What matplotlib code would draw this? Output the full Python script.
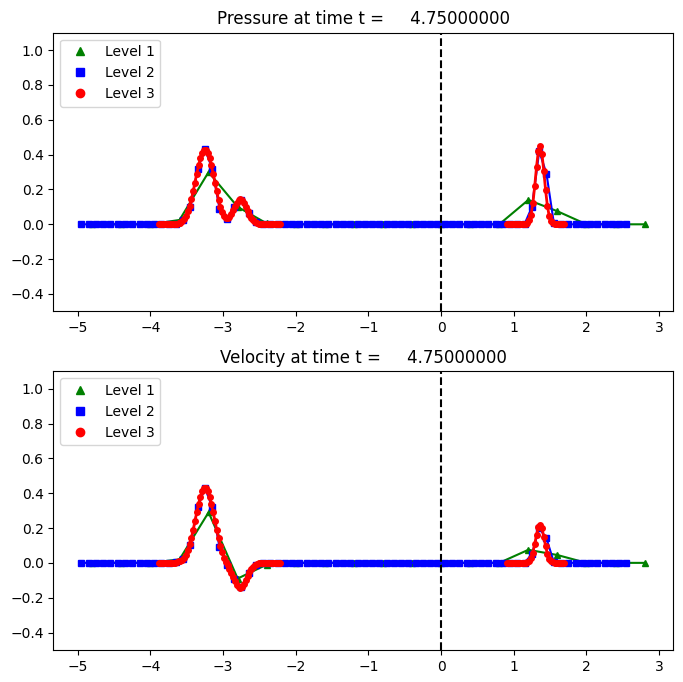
import numpy as np
import matplotlib
matplotlib.use('Agg')
import matplotlib.pyplot as plt
from matplotlib.lines import Line2D

t_frame = 4.75

# level 1 grid: dx = 0.4, cell centres from -4.8 to 2.8
x1 = np.arange(20) * 0.4 - 4.8
p1 = [0, 0, 0, 0.025, 0.30, 0.10, 0.005, 0, 0, 0,
      0, 0, 0, 0, 0, 0.14, 0.075, 0, 0, 0]
u1 = [0, 0, 0, 0.02, 0.29, -0.09, -0.01, 0, 0, 0,
      0, 0, 0, 0, 0, 0.075, 0.045, 0, 0, 0]

# level 2 grid: dx = 0.1, cell centres from -4.95 to 2.55
x2 = np.arange(76) * 0.1 - 4.95
p2 = [0, 0, 0, 0, 0, 0, 0, 0, 0, 0,
      0, 0, 0, 0.003, 0.022, 0.10, 0.32, 0.43, 0.32, 0.09,
      0.03, 0.10, 0.14, 0.065, 0.015, 0, 0, 0, 0, 0,
      0, 0, 0, 0, 0, 0, 0, 0, 0, 0,
      0, 0, 0, 0, 0, 0, 0, 0, 0, 0,
      0, 0, 0, 0, 0, 0, 0, 0, 0, 0,
      0, 0.003, 0.10, 0.42, 0.29, 0.01, 0, 0, 0, 0,
      0, 0, 0, 0, 0, 0]
u2 = [0, 0, 0, 0, 0, 0, 0, 0, 0, 0,
      0, 0, 0, 0.003, 0.022, 0.10, 0.32, 0.43, 0.32, 0.09,
      -0.01, -0.09, -0.14, -0.06, -0.015, 0, 0, 0, 0, 0,
      0, 0, 0, 0, 0, 0, 0, 0, 0, 0,
      0, 0, 0, 0, 0, 0, 0, 0, 0, 0,
      0, 0, 0, 0, 0, 0, 0, 0, 0, 0,
      0, 0.002, 0.05, 0.20, 0.14, 0.005, 0, 0, 0, 0,
      0, 0, 0, 0, 0, 0]

# level 3 grids: dx = 0.025, two patches [-3.9, -2.2] and [0.9, 1.7]
x3a = np.arange(68) * 0.025 - 3.8875
p3a = [0, 0, 0, 0, 0, 0, 0, 0.001, 0.001, 0.002,
       0.004, 0.008, 0.010, 0.018, 0.030, 0.048, 0.075, 0.107, 0.145, 0.190,
       0.240, 0.291, 0.340, 0.381, 0.412, 0.428, 0.428, 0.412, 0.381, 0.340,
       0.291, 0.240, 0.190, 0.140, 0.102, 0.069, 0.046, 0.034, 0.035, 0.044,
       0.061, 0.082, 0.105, 0.125, 0.139, 0.143, 0.137, 0.121, 0.100, 0.077,
       0.055, 0.036, 0.022, 0.013, 0.007, 0.003, 0.0015, 0, 0, 0,
       0, 0, 0, 0, 0, 0, 0, 0]
u3a = [0, 0, 0, 0, 0, 0, 0, 0.001, 0.001, 0.002,
       0.004, 0.008, 0.010, 0.018, 0.030, 0.048, 0.075, 0.107, 0.145, 0.190,
       0.240, 0.291, 0.340, 0.381, 0.412, 0.428, 0.428, 0.412, 0.381, 0.340,
       0.291, 0.240, 0.190, 0.140, 0.098, 0.061, 0.030, 0.006, -0.015, -0.036,
       -0.057, -0.080, -0.105, -0.125, -0.139, -0.143, -0.137, -0.121, -0.100, -0.077,
       -0.055, -0.036, -0.022, -0.013, -0.007, -0.003, -0.001, 0, 0, 0,
       0, 0, 0, 0, 0, 0, 0, 0]

x3b = np.arange(32) * 0.025 + 0.9125
p3b = [0, 0, 0, 0, 0, 0, 0, 0, 0, 0,
       0.002, 0.007, 0.022, 0.056, 0.121, 0.218, 0.329, 0.420, 0.450, 0.405,
       0.307, 0.196, 0.105, 0.047, 0.018, 0.006, 0.002, 0, 0, 0,
       0, 0]
u3b = [0, 0, 0, 0, 0, 0, 0, 0, 0, 0,
       0.001, 0.003, 0.011, 0.027, 0.059, 0.107, 0.161, 0.205, 0.220, 0.198,
       0.150, 0.096, 0.051, 0.023, 0.009, 0.003, 0.001, 0, 0, 0,
       0, 0]

fig, axes = plt.subplots(2, 1, figsize=(6.83, 6.82), dpi=100)
fig.subplots_adjust(left=0.078, right=0.985, top=0.952, bottom=0.047, hspace=0.215)

panels = [(axes[0], 'Pressure', p1, p2, p3a, p3b),
          (axes[1], 'Velocity', u1, u2, u3a, u3b)]

for ax, name, q1, q2, q3a, q3b in panels:
    ax.plot(x1, q1, 'g-^', markersize=5, linewidth=1.5)
    ax.plot(x2, q2, 'b-s', markersize=4.5, linewidth=1.5)
    ax.plot(x3a, q3a, 'r-o', markersize=4, linewidth=2)
    ax.plot(x3b, q3b, 'r-o', markersize=4, linewidth=2)
    ax.axvline(0, color='k', linestyle='--', linewidth=1.5)
    ax.set_ylim(-0.5, 1.1)
    ax.set_title('%s at time t = %14.8f' % (name, t_frame))
    handles = [Line2D([], [], color='g', marker='^', linestyle='None'),
               Line2D([], [], color='b', marker='s', linestyle='None'),
               Line2D([], [], color='r', marker='o', linestyle='None')]
    ax.legend(handles, ['Level 1', 'Level 2', 'Level 3'], loc='upper left')

fig.savefig('out.png')
